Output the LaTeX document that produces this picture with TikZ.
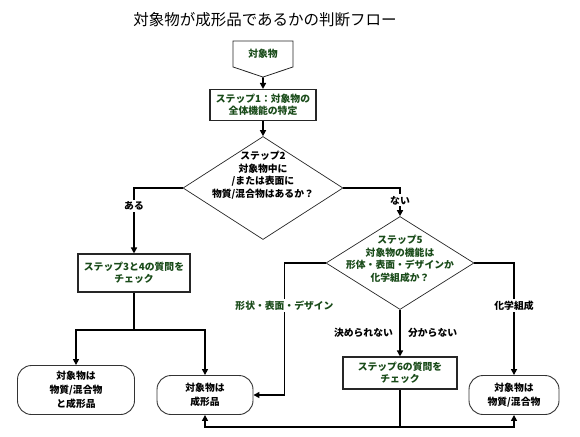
\documentclass[tikz,border=0pt]{standalone}
\usepackage{fontspec}
\setmainfont{Noto Sans CJK JP}
\usepackage{xcolor}
\usetikzlibrary{arrows.meta}
\usetikzlibrary{positioning}
\usetikzlibrary{calc}
\usetikzlibrary{shapes.geometric, shapes.symbols}
\definecolor{stepgreen}{RGB}{25,75,25}
\newcommand\nodefont{\fontsize{9.8}{12.5}\selectfont\bfseries}
\tikzset{
	stepbox/.style={rectangle, draw=black!85, line width=1.1pt, fill=white, align=center, font=\nodefont, text=stepgreen, inner sep=2pt},
	endbox/.style={rectangle, rounded corners=14pt, draw=black!80, line width=0.9pt, align=center, font=\fontsize{9.8}{14}\selectfont\bfseries},
	askshape/.style={diamond, draw=black!85, line width=0.7pt, inner sep=0pt, fill=white},
	asktext/.style={align=center, font=\nodefont, inner sep=0pt},
	flow/.style={line width=1.6pt, -{Triangle[length=6pt,width=6pt]}},
	plain/.style={line width=1.6pt},
	branch/.style={fill=white, inner sep=1.5pt, font=\nodefont},
}
\begin{document}
\begin{tikzpicture}[x=1pt, y=-1pt]
	\useasboundingbox (0,0) rectangle (580,436);
	\node[font=\fontsize{15.5}{18}\selectfont] (title) at (265,20) {対象物が成形品であるかの判断フロー};
	\node[signal, signal to=south, signal from=nowhere, signal pointer angle=143, draw=black!85, line width=0.8pt, minimum width=60pt, minimum height=32pt, font=\nodefont, text=stepgreen] (start) at (263,54) {対象物};
	\node[stepbox, minimum width=106pt, minimum height=31pt] (box1) at (263,105) {ステップ1：対象物の\\全体機能の特定};
	\node[askshape, minimum width=160pt, minimum height=103pt] (d1) at (263,188) {};
	\node[asktext] (d1text) at (263,175) {ステップ2\\対象物中に\\/または表面に\\物質/混合物はあるか？};
	\node[stepbox, minimum width=112pt, minimum height=38pt] (box2) at (134,273) {ステップ3と4の質問を\\チェック};
	\node[askshape, minimum width=148pt, minimum height=93pt] (d2) at (400,263) {};
	\node[asktext, text=stepgreen] (d2text) at (400,259) {ステップ5\\対象物の機能は\\形体・表面・デザインか\\化学組成か？};
	\node[stepbox, minimum width=114pt, minimum height=32pt] (box3) at (400,373) {ステップ6の質問を\\チェック};
	\node[endbox, minimum width=117pt, minimum height=49pt] (endleft) at (76,390) {対象物は\\物質/混合物\\と成形品};
	\node[endbox, minimum width=96pt, minimum height=39pt] (endmid) at (205,395) {対象物は\\成形品};
	\node[endbox, minimum width=90pt, minimum height=39pt] (endright) at (514,395) {対象物は\\物質/混合物};
	\coordinate (j1) at (134,330);
	\coordinate (j2) at (400,427);
	\draw[flow] (start) -- (box1);
	\draw[flow] (box1) -- (d1);
	\draw[flow] (d1.west) -| node[branch, pos=0.64] {ある} (box2.north);
	\draw[flow] (d1.east) -| node[branch, pos=0.72] {ない} (d2.north);
	\draw[plain] (box2.south) -- (j1);
	\draw[flow] (j1) -| (endleft.north);
	\draw[flow] (j1) -| (endmid.north);
	\draw[flow] (d2.west) -| node[branch, pos=0.66, text=stepgreen] {形状・表面・デザイン} ($(endmid.east)+(31,0)$) -- (endmid.east);
	\draw[flow] (d2.east) -| node[branch, pos=0.69] {化学組成} (endright.north);
	\draw[flow] (d2.south) -- node[left, font=\nodefont, xshift=-3pt] {決められない} node[right, font=\nodefont, xshift=4pt] {分からない} (box3.north);
	\draw[plain] (box3.south) -- (j2);
	\draw[flow] (j2) -| (endmid.south);
	\draw[flow] (j2) -| (endright.south);
\end{tikzpicture}
\end{document}
